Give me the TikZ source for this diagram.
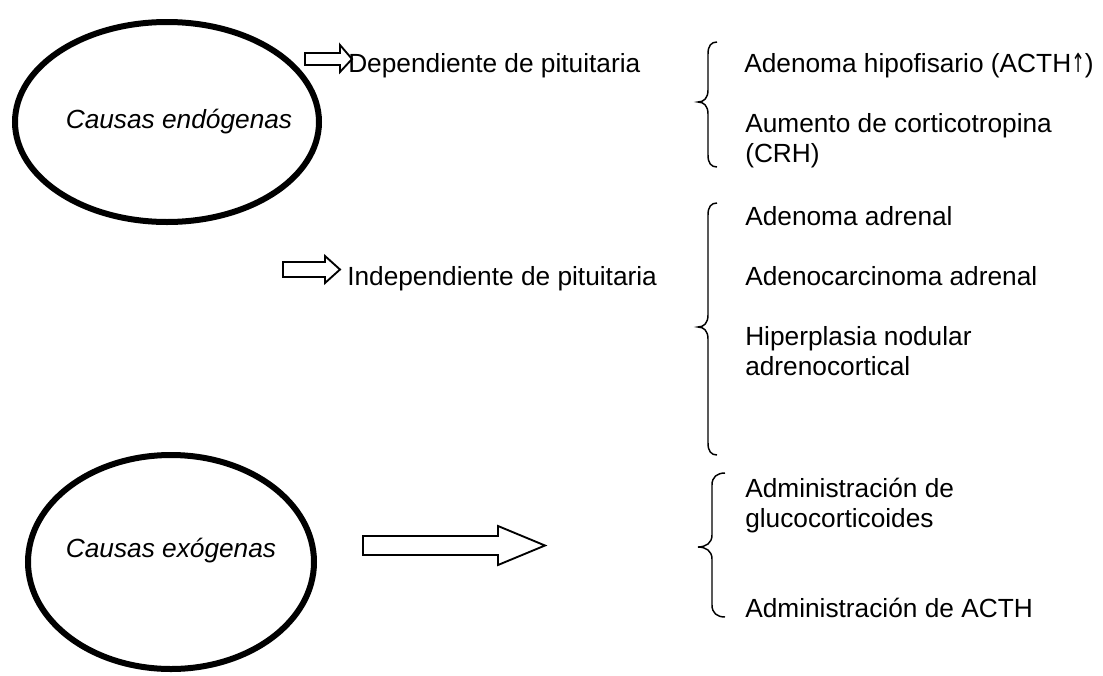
\documentclass[tikz,border=0pt]{standalone}
\usepackage{fontspec}
\setmainfont{Liberation Sans}
\newfontfamily\dejavu{DejaVu Sans}
\usetikzlibrary{shapes.geometric}
\begin{document}
\begin{tikzpicture}[x=0.75pt,y=-0.75pt,
  txt/.style={anchor=base west, inner sep=0pt, font=\fontsize{19.7}{22.5}\selectfont},
  itxt/.style={anchor=center, inner sep=0pt, font=\fontsize{19.7}{22.5}\selectfont\itshape},
  oval/.style={draw, line width=4.5pt, ellipse, inner sep=0pt},
  blockarrow/.style={draw, line width=1.4pt, line join=miter},
  bracestyle/.style={draw, line width=1.1pt}]
\useasboundingbox (0,0) rectangle (1103,675);

% ellipses
\node[oval, minimum width=228pt, minimum height=150pt] (endo) at (167,122) {};
\node[itxt] (endotxt) at (179,122) {Causas endógenas};
\node[oval, minimum width=214.5pt, minimum height=160.5pt] (exo) at (171,562) {};
\node[itxt] (exotxt) at (171,551) {Causas exógenas};

% middle texts
\node[txt] (dep) at (348,72) {Dependiente de pituitaria};
\node[txt] (indep) at (347,285) {Independiente de pituitaria};

% block arrows
\draw[blockarrow] (305,53) -- (340,53) -- (340,45) -- (352,59) -- (340,72) -- (340,65) -- (305,65) -- cycle;
\draw[blockarrow] (283,262) -- (325,262) -- (325,256) -- (340,269.5) -- (325,283) -- (325,277) -- (283,277) -- cycle;
\draw[blockarrow] (363,536) -- (498,536) -- (498,526) -- (545,545.5) -- (498,565) -- (498,555) -- (363,555) -- cycle;

% braces
\draw[bracestyle] (717,42) .. controls (711,42) and (708,46) .. (708,54) -- (708,90)
  .. controls (708,98) and (704,102) .. (698,102) .. controls (704,102) and (708,106) .. (708,114)
  -- (708,155) .. controls (708,163) and (711,167) .. (717,167);
\draw[bracestyle] (717,203) .. controls (711,203) and (708,207) .. (708,215) -- (708,315)
  .. controls (708,323) and (704,327) .. (698,327) .. controls (704,327) and (708,331) .. (708,339)
  -- (708,443) .. controls (708,451) and (711,455) .. (717,455);
\draw[bracestyle] (725,473) .. controls (717,473) and (712,477) .. (712,485) -- (712,535)
  .. controls (712,543) and (706,547) .. (698,547) .. controls (706,547) and (712,551) .. (712,559)
  -- (712,605) .. controls (712,613) and (717,617) .. (725,617);

% right texts
\node[txt] (r1) at (744,72) {Adenoma hipofisario (ACTH\scalebox{0.62}[1]{\dejavu ↑})};
\node[txt] (r2a) at (745,132) {Aumento de corticotropina};
\node[txt] (r2b) at (745,162) {(CRH)};
\node[txt] (r3) at (745,225) {Adenoma adrenal};
\node[txt] (r4) at (745,285) {Adenocarcinoma adrenal};
\node[txt] (r5a) at (745,345) {Hiperplasia nodular};
\node[txt] (r5b) at (745,375) {adrenocortical};
\node[txt] (r6a) at (745,497) {Administración de};
\node[txt] (r6b) at (745,527) {glucocorticoides};
\node[txt] (r7) at (745,617) {Administración de ACTH};
\end{tikzpicture}
\end{document}
